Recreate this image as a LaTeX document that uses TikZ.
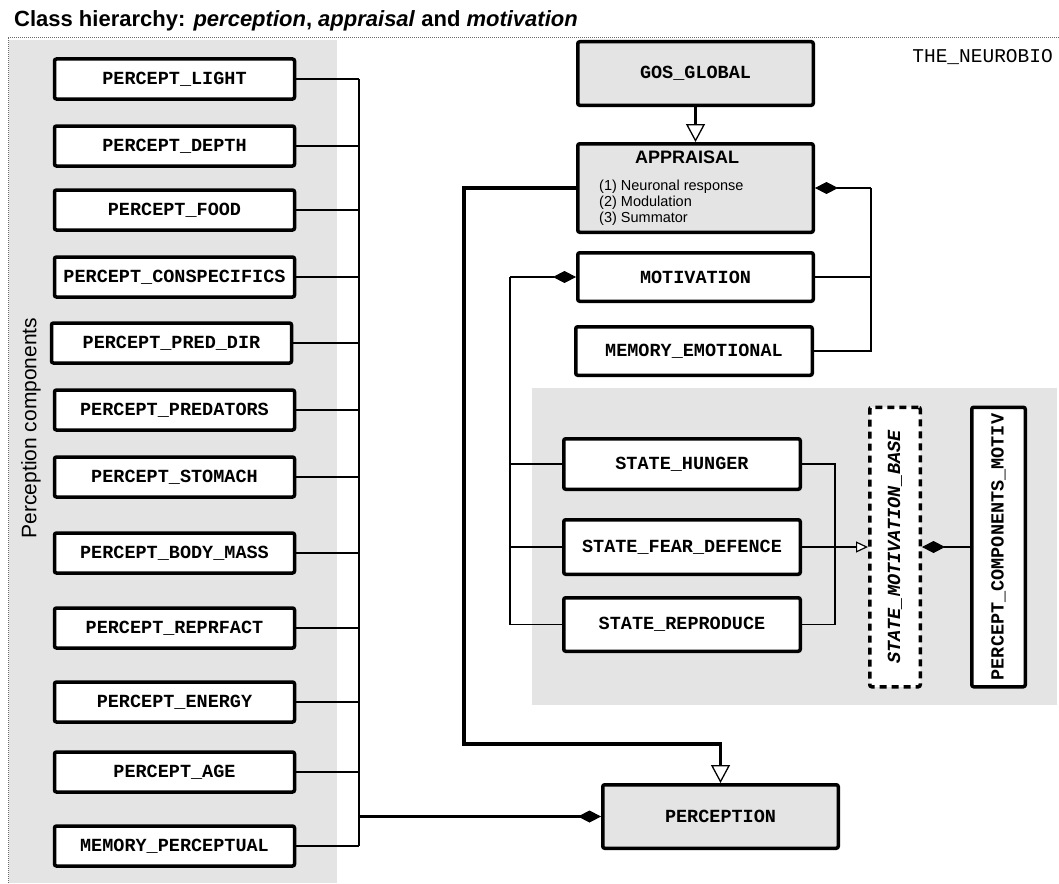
\documentclass[tikz,border=0pt]{standalone}
\usepackage{fontspec}
\setmainfont{Liberation Sans}
\newfontfamily\classfont{Liberation Mono}
\usetikzlibrary{arrows.meta}

\definecolor{panel}{RGB}{228,228,228}
\definecolor{framegray}{RGB}{105,105,105}

\tikzset{
  classbox/.style={draw=black, line width=3.5pt, rounded corners=2pt, fill=white,
    inner sep=0pt, font=\classfont\bfseries\fontsize{18.5}{20}\selectfont},
  abstractbox/.style={classbox, fill=panel},
  virtualbox/.style={classbox, dash pattern=on 7pt off 5pt},
  link/.style={line width=1.4pt},
  biglink/.style={line width=3.5pt},
  inherit/.style={-{Triangle[open, fill=white, line width=1.3pt, width=19pt, length=18pt]}},
  inheritsmall/.style={-{Triangle[open, fill=white, line width=1.2pt, width=11pt, length=12pt]}},
  compose/.style={-{Diamond[width=12pt, length=23pt, line width=0.8pt]}},
}

\begin{document}
\begin{tikzpicture}[x=1pt, y=-1pt]
\useasboundingbox (0,0) rectangle (1059,883);

% background panels and frame
\fill[panel] (9,40) rectangle (337,883);
\fill[panel] (532,388) rectangle (1057,705);
\draw[framegray, line width=0.8pt, dash pattern=on 1pt off 1pt] (8,883) -- (8,37) -- (1059,37);

% headings
\node[anchor=base west, inner sep=0pt, font=\bfseries\fontsize{22}{24}\selectfont] (title) at (14,27)
  {Class hierarchy: \textit{perception}, \textit{appraisal} and \textit{motivation}};
\node[anchor=east, inner sep=0pt, font=\classfont\fontsize{19.5}{21}\selectfont] (tag) at (1053,57) {THE\_NEUROBIO};
\node[rotate=90, inner sep=0pt, font=\fontsize{21}{24}\selectfont] (plabel) at (31,428) {Perception components};

% perception components
\begin{scope}[every node/.style={classbox, minimum width=240pt, minimum height=40pt}]
  \node (light)   at (174.5,79)  {PERCEPT\_LIGHT};
  \node (depth)   at (174.5,146) {PERCEPT\_DEPTH};
  \node (food)    at (174.5,210) {PERCEPT\_FOOD};
  \node (consp)   at (174.5,277) {PERCEPT\_CONSPECIFICS};
  \node (preddir) at (171.5,343) {PERCEPT\_PRED\_DIR};
  \node (pred)    at (174.5,410) {PERCEPT\_PREDATORS};
  \node (stomach) at (174.5,477) {PERCEPT\_STOMACH};
  \node (mass)    at (174.5,553) {PERCEPT\_BODY\_MASS};
  \node (repr)    at (174.5,628) {PERCEPT\_REPRFACT};
  \node (energy)  at (174.5,702) {PERCEPT\_ENERGY};
  \node (age)     at (174.5,772) {PERCEPT\_AGE};
  \node (memp)    at (174.5,846) {MEMORY\_PERCEPTUAL};
\end{scope}

% appraisal side
\node[abstractbox, minimum width=235.5pt, minimum height=63.5pt] (gos) at (695.5,73.5) {GOS\_GLOBAL};
\node[abstractbox, minimum width=235.5pt, minimum height=88.5pt] (appraisal) at (695.5,188) {};
\node[inner sep=0pt, font=\bfseries\fontsize{18}{20}\selectfont] (apptitle) at (687,157) {APPRAISAL};
\node[anchor=west, align=left, inner sep=0pt, font=\fontsize{14.5}{16}\selectfont] (applist) at (599,203)
  {(1) Neuronal response\\(2) Modulation\\(3) Summator};
\node[classbox, minimum width=235.5pt, minimum height=48.5pt] (motivation) at (695.5,277) {MOTIVATION};
\node[classbox, minimum width=236.5pt, minimum height=48.5pt] (mememo) at (694,351) {MEMORY\_EMOTIONAL};

% motivational states
\node[classbox, minimum width=236.5pt, minimum height=50.5pt] (hunger) at (682,464) {STATE\_HUNGER};
\node[classbox, minimum width=236.5pt, minimum height=54.5pt] (fear) at (682,547) {STATE\_FEAR\_DEFENCE};
\node[classbox, minimum width=236.5pt, minimum height=53.5pt] (reproduce) at (682,624.5) {STATE\_REPRODUCE};
\node[virtualbox, minimum width=50.5pt, minimum height=279.5pt] (base) at (895,547)
  {\rotatebox{90}{\itshape STATE\_MOTIVATION\_BASE}};
\node[classbox, minimum width=53.5pt, minimum height=279.5pt] (motiv) at (998.5,547)
  {\rotatebox{90}{PERCEPT\_COMPONENTS\_MOTIV}};

\node[abstractbox, minimum width=235.5pt, minimum height=63.5pt] (perception) at (720.5,816.5) {PERCEPTION};

% bus of the perception components
\coordinate (bus) at (359,816.5);
\foreach \n in {light,depth,food,consp,preddir,pred,stomach,mass,repr,energy,age,memp}
  \draw[link] (\n.east) -- (\n.east -| bus);
\draw[link] (light.east -| bus) -- (memp.east -| bus);
\draw[biglink, compose] (bus) -- (perception.west);

% inheritance
\draw[biglink, inherit] (gos.south) -- (appraisal.north);
\coordinate (genleft) at (464,744);
\draw[biglink, inherit] (appraisal.west) -| (genleft) -| (perception.north);

% appraisal composition
\coordinate (ebus) at (871,188);
\draw[link] (motivation.east) -- (motivation.east -| ebus);
\draw[link] (mememo.east) -| (ebus);
\draw[link, compose] (ebus) -- (appraisal.east);

% motivation composition
\coordinate (sbus) at (510,277);
\draw[link] (hunger.west) -- (hunger.west -| sbus);
\draw[link] (fear.west) -- (fear.west -| sbus);
\draw[link] (reproduce.west) -| (sbus);
\draw[link, compose] (sbus) -- (motivation.west);

% states derive from the motivation base
\coordinate (rbus) at (835,547);
\draw[link] (hunger.east) -| (rbus);
\draw[link] (reproduce.east) -| (rbus);
\draw[link, inheritsmall] (fear.east) -- (base.west);
\draw[link, compose] (motiv.west) -- (base.east);
\end{tikzpicture}
\end{document}
